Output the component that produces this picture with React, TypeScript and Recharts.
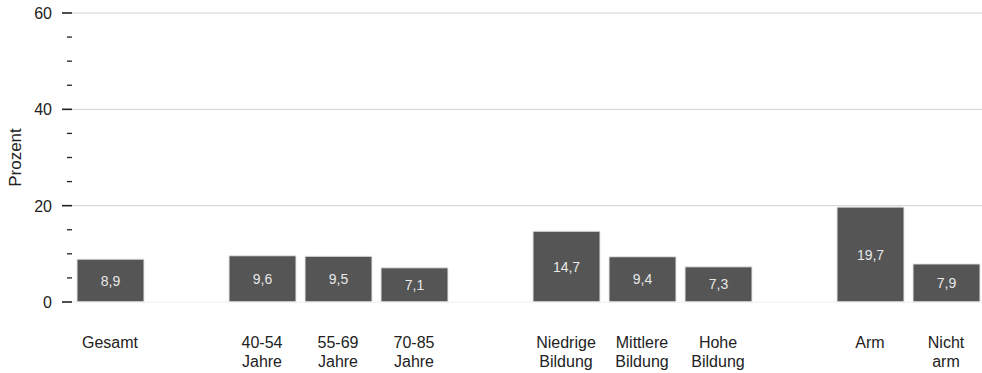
import React from 'react';
import { BarChart, Bar, XAxis, YAxis, ReferenceLine, LabelList } from 'recharts';

// ─── Data ────────────────────────────────────────────────────────────────────
// empty strings are spacer slots between the groups
const categories = [
  'Gesamt', '', '40-54 Jahre', '55-69 Jahre', '70-85 Jahre', '',
  'Niedrige Bildung', 'Mittlere Bildung', 'Hohe Bildung', '', 'Arm', 'Nicht arm',
];
const values: (number | null)[] = [8.9, null, 9.6, 9.5, 7.1, null, 14.7, 9.4, 7.3, null, 19.7, 7.9];
const yTicks = [0, 5, 10, 15, 20, 25, 30, 35, 40, 45, 50, 55, 60];
const yLabeled = [0, 20, 40, 60];
const gridLines = [20, 40, 60];

const data = categories.map((name, i) => ({ key: `c${i}`, name, value: values[i] }));

const FONT = '"Liberation Sans", Arial, sans-serif';
const BAR = '#555555';

function YTick(props: any) {
  const { x, y, payload } = props;
  const v = payload.value as number;
  const major = yLabeled.includes(v);
  return (
    <g>
      <line x1={major ? x + 7 : x + 12} x2={x + 17} y1={y} y2={y} stroke="#222" strokeWidth={major ? 1.6 : 1.3} />
      {major && (
        <text x={x - 3} y={y} dy={6} textAnchor="end" fontSize={16} fill="#222" fontFamily={FONT}>
          {v}
        </text>
      )}
    </g>
  );
}

function XTick(props: any) {
  const { x, y, payload } = props;
  const d = data[payload.index];
  if (!d || !d.name) return null;
  const words = d.name.split(' ');
  return (
    <text x={x} y={y} textAnchor="middle" fontSize={16} fill="#222" fontFamily={FONT}>
      {words.map((w: string, i: number) => (
        <tspan key={i} x={x} dy={i === 0 ? 38 : 19}>{w}</tspan>
      ))}
    </text>
  );
}

function YLabel(props: any) {
  const { viewBox } = props;
  const cx = 20.5;
  const cy = viewBox.y + viewBox.height / 2;
  return (
    <text x={cx} y={cy} transform={`rotate(-90 ${cx} ${cy})`} textAnchor="middle" fontSize={17} fill="#222" fontFamily={FONT}>
      Prozent
    </text>
  );
}

export default function App() {
  return (
    <div style={{ position: 'absolute', left: 0, top: 0, width: 982, height: 373, overflow: 'hidden', background: '#fff', fontFamily: FONT }}>
      <BarChart
        width={984}
        height={373}
        data={data}
        margin={{ top: 13, right: 0, bottom: 0, left: 0 }}
        barSize={67}
      >
        <XAxis
          dataKey="key"
          axisLine={false}
          tickLine={false}
          height={71}
          interval={0}
          tick={<XTick />}
        />
        <YAxis
          domain={[0, 60]}
          ticks={yTicks}
          interval={0}
          width={72}
          axisLine={false}
          tickLine={false}
          tickSize={10}
          tickMargin={7}
          tick={<YTick />}
          label={<YLabel />}
        />
        <ReferenceLine y={0} stroke="#eeeeee" strokeWidth={1} />
        {gridLines.map((g) => (
          <ReferenceLine key={g} y={g} stroke="#d0d0d0" strokeWidth={1} />
        ))}
        <Bar dataKey="value" fill={BAR} stroke="#e6e6e6" strokeWidth={1} isAnimationActive={false}>
          <LabelList
            dataKey="value"
            position="center"
            fill="#e8e8e8"
            fontSize={14}
            fontFamily={FONT}
            formatter={(v: any) => (v == null ? '' : String(v).replace('.', ','))}
          />
        </Bar>
      </BarChart>
    </div>
  );
}
